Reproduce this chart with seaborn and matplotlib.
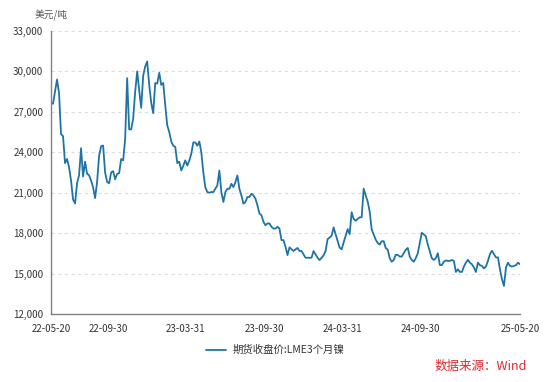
import pandas as pd
import seaborn as sns
import matplotlib.pyplot as plt
import matplotlib.ticker as mticker
import matplotlib.dates as mdates


start_date = '2022-05-20'
end_date = '2025-05-20'
nickel_2022 = [27670, 27600, 28500, 29400, 28400, 25350, 25200, 23200, 23500, 22900,
               21900, 20500, 20200, 21700, 22300, 24300, 22200, 23300, 22400, 22300,
               21900, 21400, 20600, 21800, 23750, 24450, 24500, 22500, 21800, 21700,
               22500, 22600, 22000, 22400, 22450, 23500, 23400, 25000, 29500, 25700]
nickel_2023a = [25700, 26500, 28500, 30000, 28600, 27300, 29700, 30370, 30740, 29000,
                27670, 26900, 29140, 29100, 29900, 29000, 29140, 27500, 26000, 25500,
                24800, 24490, 24400, 23200, 23300, 22650, 23000, 23400, 23010, 23380,
                23900, 24730, 24730, 24490, 24800, 24000, 22500, 21400, 21050, 21000]
nickel_2023b = [21050, 21050, 21290, 21540, 22650, 21050, 20310, 21050, 21290, 21290,
                21660, 21420, 21780, 22280, 21290, 20800, 20190, 20310, 20680, 20680,
                20920, 20800, 20560, 20060, 19450, 19330, 18840, 18590, 18720, 18720,
                18470, 18340, 18340, 18470, 18340, 17480, 17480, 16990, 16370, 16950]
nickel_2024a = [16800, 16675, 16800, 16900, 16675, 16675, 16425, 16175, 16175, 16175,
                16175, 16675, 16425, 16175, 16000, 16175, 16350, 16675, 17550, 17675,
                17800, 18425, 17925, 17425, 16925, 16800, 17300, 17800, 18300, 17925,
                19550, 19050, 18925, 19050, 19175, 19175, 21300, 20800, 20350, 19600]
nickel_2024b = [18280, 17900, 17520, 17270, 17150, 17400, 17400, 16900, 16770, 16140,
                15880, 16010, 16390, 16390, 16260, 16260, 16510, 16770, 16900, 16260,
                16010, 15880, 16140, 16510, 17280, 18030, 17900, 17770, 17150, 16640,
                16140, 16010, 16140, 16510, 15630, 15630, 15880, 15970, 15940, 15940]
nickel_2025 = [16010, 15940, 15120, 15320, 15120, 15120, 15520, 15810, 16020, 15810,
               15690, 15450, 15120, 15810, 15620, 15570, 15380, 15520, 15940, 16440,
               16690, 16440, 16200, 16200, 15320, 14580, 14080, 15450, 15810, 15570,
               15520, 15570, 15620, 15810, 15690]

tick_dates = ['2022-05-20', '2022-06-30', '2022-09-30', '2022-12-31', '2023-03-31',
              '2023-06-30', '2023-09-30', '2023-12-31', '2024-03-31', '2024-06-30',
              '2024-09-30', '2024-12-31', '2025-03-31', '2025-05-20']
tick_labels = ['22-05-20', '', '22-09-30', '', '23-03-31', '', '23-09-30', '',
               '24-03-31', '', '24-09-30', '', '', '25-05-20']
y_ticks = [12000, 15000, 18000, 21000, 24000, 27000, 30000, 33000]

series_name = '期货收盘价:LME3个月镍'

values = nickel_2022 + nickel_2023a + nickel_2023b + nickel_2024a + nickel_2024b + nickel_2025
dates = pd.date_range(start_date, end_date, periods=len(values))
df = pd.DataFrame({'date': dates, 'price': values})

sns.set_style('white')
plt.rcParams['font.family'] = ['Noto Sans CJK SC', 'DejaVu Sans']

fig = plt.figure(figsize=(5.5, 3.82), dpi=100)
ax = fig.add_axes([51 / 550, 1 - 314 / 382, 469 / 550, 283 / 382])

sns.lineplot(data=df, x='date', y='price', ax=ax, color='#1f74a6', linewidth=1.3,
             label=series_name, legend=False)

ax.set_xlim(pd.Timestamp(start_date), pd.Timestamp(end_date))
ax.set_ylim(12000, 33000)
ax.set_xlabel('')
ax.set_ylabel('')

ax.set_yticks(y_ticks)
ax.yaxis.set_major_formatter(mticker.StrMethodFormatter('{x:,.0f}'))
ax.set_xticks([mdates.date2num(pd.Timestamp(d)) for d in tick_dates])
ax.set_xticklabels(tick_labels)

ax.grid(axis='y', color='#dddddd', linestyle=(0, (3, 3)), linewidth=0.8)
ax.grid(axis='x', visible=False)
ax.set_axisbelow(True)

for side in ['top', 'right']:
    ax.spines[side].set_visible(False)
for side in ['left', 'bottom']:
    ax.spines[side].set_color('#808080')
    ax.spines[side].set_linewidth(1.0)

ax.tick_params(axis='both', which='major', direction='out', length=4, width=0.9,
               color='#808080', labelsize=7, labelcolor='#333333', pad=1.5)
ax.tick_params(axis='x', pad=3)

fig.text(35 / 550, 1 - 15 / 382, '美元/吨', fontsize=7, color='#555555',
         ha='left', va='center')

handles, labels = ax.get_legend_handles_labels()
fig.legend(handles, labels, loc='center', bbox_to_anchor=(0.5, 1 - 350 / 382),
           frameon=False, fontsize=7.5, handlelength=2.0, handletextpad=0.6,
           labelcolor='#333333')

fig.text(527 / 550, 1 - 366 / 382, '数据来源：Wind', fontsize=9, color='#e0282e',
         ha='right', va='center')

fig.savefig('out.png', dpi=100)
